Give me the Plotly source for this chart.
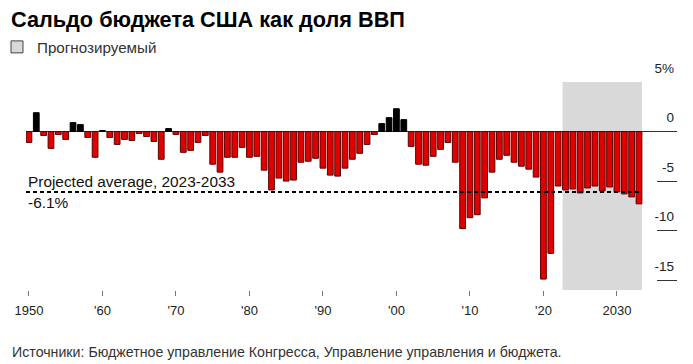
import plotly.graph_objects as go

# ---- data ----
years = list(range(1950, 2034))
historical_values = [
    -1.1, 1.9, -0.4, -1.7, -0.3, -0.8, 0.9, 0.7, -0.6, -2.6,      # 1950-59
    0.1, -0.6, -1.3, -0.8, -0.9, -0.2, -0.5, -1.0, -2.8, 0.3,      # 1960-69
    -0.3, -2.1, -1.9, -1.1, -0.4, -3.3, -4.1, -2.6, -2.6, -1.6,    # 1970-79
    -2.6, -2.5, -3.9, -5.9, -4.7, -5.0, -4.9, -3.1, -3.0, -2.7,    # 1980-89
    -3.7, -4.4, -4.5, -3.7, -2.8, -2.2, -1.3, -0.3, 0.8, 1.4,      # 1990-99
    2.3, 1.2, -1.5, -3.3, -3.4, -2.5, -1.8, -1.1, -3.1, -9.8,      # 2000-09
    -8.7, -8.4, -6.7, -4.1, -2.8, -2.4, -3.1, -3.5, -3.8, -4.6,    # 2010-19
    -14.9, -12.3, -5.5,                                            # 2020-22
]
projected_values = [-5.9, -5.8, -6.2, -5.7, -5.5, -6.0, -5.6, -6.1, -6.3, -6.6, -7.3]  # 2023-33
values = historical_values + projected_values

proj_start, proj_end = 2023, 2033
projected_average = -6.1

x_tickvals = [1950, 1960, 1970, 1980, 1990, 2000, 2010, 2020, 2030]
x_ticktext = ["1950", "'60", "'70", "'80", "'90", "'00", "'10", "'20", "2030"]
y_tickvals = [5, 0, -5, -10, -15]
y_ticktext = ["5%", "0", "-5", "-10", "-15"]

title_text = "Сальдо бюджета США как доля ВВП"
legend_text = "Прогнозируемый"
avg_label = "Projected average, 2023-2033"
avg_value_label = "-6.1%"
source_text = "Источники: Бюджетное управление Конгресса, Управление управления и бюджета."

# ---- styling ----
FONT = "Liberation Sans, Arial, Helvetica, sans-serif"
RED = "#e10000"
RED_EDGE = "#5a0000"
BAR_W = 0.78
half = 0.4

# page body has an 8px margin, so the figure is 8px smaller and everything is offset
W, H = 685, 356
ML, MR, MT, MB = 18, 16, 74, 74
PW, PH = W - ML - MR, H - MT - MB

fill_colors = ["#000000" if v > 0 else RED for v in values]
edge_colors = ["#000000" if v > 0 else RED_EDGE for v in values]

fig = go.Figure()
fig.add_bar(
    x=years, y=values, width=BAR_W,
    marker=dict(color=fill_colors, line=dict(color=edge_colors, width=1)),
    showlegend=False, hoverinfo="x+y",
)
# legend entry for the projected band
fig.add_bar(
    x=[None], y=[None], name=legend_text,
    marker=dict(color="#d9d9d9", line=dict(color="#444444", width=1)),
    showlegend=True,
)

x_min = years[0] - half
x_max = x_min + PW / 7.35

fig.add_shape(type="rect", xref="x", yref="paper",
              x0=proj_start - half, x1=proj_end + half, y0=0, y1=1,
              fillcolor="#d9d9d9", line=dict(width=0), layer="below")
fig.add_shape(type="line", xref="x", yref="y",
              x0=x_min, x1=proj_end + half, y0=projected_average, y1=projected_average,
              line=dict(color="#000000", width=2, dash="4px,3px"), layer="above")

fig.add_annotation(text=avg_label, xref="x", yref="y", x=x_min, y=projected_average,
                   xanchor="left", yanchor="bottom", showarrow=False,
                   font=dict(family=FONT, size=15.4, color="#111111"))
fig.add_annotation(text=avg_value_label, xref="x", yref="y", x=x_min, y=projected_average,
                   xanchor="left", yanchor="top", showarrow=False,
                   font=dict(family=FONT, size=15.4, color="#111111"))
fig.add_annotation(text=source_text, xref="paper", yref="paper",
                   x=(2 - ML) / PW, y=(MT + PH - 344) / PH,
                   xanchor="left", yanchor="middle", showarrow=False,
                   font=dict(family=FONT, size=14.2, color="#333333"))

fig.update_layout(
    width=W, height=H,
    margin=dict(l=ML, r=MR, t=MT, b=MB, autoexpand=False),
    paper_bgcolor="white", plot_bgcolor="white",
    barmode="overlay",
    font=dict(family=FONT, size=13.5, color="#222222"),
    title=dict(text=f"<b>{title_text}</b>", x=3 / W, xanchor="left",
               xref="container", yref="container", y=1 - 11.5 / H, yanchor="middle",
               font=dict(family=FONT, size=21.7, color="#000000")),
    legend=dict(x=(-11 - ML) / PW, xanchor="left", y=(MT + PH - 39) / PH, yanchor="middle",
                bgcolor="rgba(0,0,0,0)", font=dict(family=FONT, size=15.2, color="#333333"),
                itemclick=False),
    xaxis=dict(range=[x_min, x_max], tickvals=x_tickvals, ticktext=x_ticktext,
               ticks="outside", ticklen=5, tickcolor="#777777", showgrid=False,
               zeroline=False, showline=False, ticklabelstandoff=3,
               tickfont=dict(family=FONT, size=13, color="#222222")),
    yaxis=dict(range=[-16, 5], side="right", tickvals=y_tickvals, ticktext=y_ticktext,
               ticks="inside", ticklen=20, tickcolor="#333333", tickwidth=1,
               showgrid=False, zeroline=True, zerolinecolor="#333333", zerolinewidth=1,
               showline=False, ticklabelposition="inside top", ticklabeloverflow="allow",
               ticklabelshift=-4,
               tickfont=dict(family=FONT, size=13.5, color="#222222")),
)

fig.write_html("out.html")
